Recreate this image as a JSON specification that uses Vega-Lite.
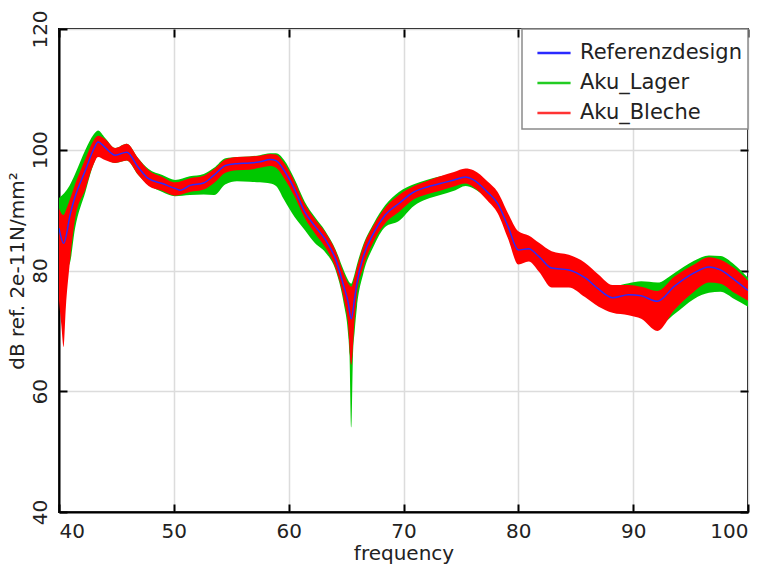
{
  "$schema": "https://vega.github.io/schema/vega-lite/v6.json",
  "autosize": {"type": "none"},
  "width": 689,
  "height": 483,
  "padding": {"left": 59, "top": 29, "right": 21, "bottom": 52},
  "background": "white",
  "config": {
    "font": "DejaVu Sans",
    "view": {"stroke": "#000000", "strokeWidth": 2},
    "axis": {
      "labelFont": "DejaVu Sans", "labelFontSize": 20, "labelColor": "#222222",
      "titleFont": "DejaVu Sans", "titleFontSize": 20, "titleFontWeight": "normal", "titleColor": "#222222",
      "domainColor": "#000000", "domainWidth": 2,
      "tickColor": "#000000", "tickWidth": 2, "tickSize": -8,
      "gridColor": "#dcdcdc", "gridWidth": 1.5,
      "labelPadding": 17
    },
    "legend": {
      "orient": "top-right", "offset": 0,
      "fillColor": "white", "strokeColor": "#8a8a8a", "strokeWidth": 1.5,
      "padding": 6, "labelFont": "DejaVu Sans", "labelFontSize": 21, "labelColor": "#222222", "labelLimit": 300,
      "symbolType": "stroke", "symbolSize": 1100, "symbolStrokeWidth": 2.5, "symbolOffset": 8,
      "rowPadding": 2, "labelOffset": 8, "cornerRadius": 0
    }
  },
  "datasets": {
    "ref": [
      {"f": 40.0, "v": 87.0}, {"f": 40.4, "v": 84.5}, {"f": 41.0, "v": 89.5}, {"f": 41.4, "v": 92.2},
      {"f": 42.3, "v": 96.6}, {"f": 43.0, "v": 100.0}, {"f": 43.4, "v": 101.3}, {"f": 44.0, "v": 100.4},
      {"f": 44.9, "v": 99.1}, {"f": 45.9, "v": 99.6}, {"f": 46.9, "v": 97.1}, {"f": 47.8, "v": 95.2},
      {"f": 49.0, "v": 94.4}, {"f": 50.1, "v": 93.6}, {"f": 50.6, "v": 93.3}, {"f": 51.4, "v": 94.1},
      {"f": 52.6, "v": 94.5}, {"f": 53.5, "v": 95.8}, {"f": 54.5, "v": 97.4}, {"f": 55.5, "v": 97.7},
      {"f": 56.6, "v": 97.8}, {"f": 57.5, "v": 98.0}, {"f": 58.4, "v": 98.4}, {"f": 58.9, "v": 98.2},
      {"f": 59.6, "v": 96.6}, {"f": 60.5, "v": 93.5}, {"f": 61.4, "v": 89.7}, {"f": 62.3, "v": 87.3},
      {"f": 63.2, "v": 85.1}, {"f": 64.1, "v": 81.8}, {"f": 64.8, "v": 77.4}, {"f": 65.15, "v": 75.0},
      {"f": 65.45, "v": 72.0}, {"f": 65.75, "v": 75.5}, {"f": 65.95, "v": 78.0}, {"f": 66.5, "v": 82.3},
      {"f": 67.4, "v": 86.2}, {"f": 68.4, "v": 89.2}, {"f": 69.6, "v": 91.1}, {"f": 70.9, "v": 93.0},
      {"f": 72.0, "v": 93.8}, {"f": 73.2, "v": 94.4}, {"f": 74.4, "v": 95.0}, {"f": 75.4, "v": 95.5},
      {"f": 76.1, "v": 95.0}, {"f": 77.3, "v": 93.0}, {"f": 78.2, "v": 91.1}, {"f": 79.1, "v": 87.3},
      {"f": 80.0, "v": 83.4}, {"f": 80.9, "v": 83.6}, {"f": 81.8, "v": 82.3}, {"f": 82.9, "v": 80.4},
      {"f": 84.4, "v": 80.1}, {"f": 85.8, "v": 78.8}, {"f": 87.0, "v": 76.9}, {"f": 88.2, "v": 75.5},
      {"f": 89.6, "v": 76.0}, {"f": 90.7, "v": 75.8}, {"f": 92.1, "v": 74.9}, {"f": 93.6, "v": 77.4},
      {"f": 95.3, "v": 79.6}, {"f": 96.6, "v": 80.6}, {"f": 97.6, "v": 80.1}, {"f": 98.8, "v": 78.5},
      {"f": 100.0, "v": 76.7}
    ],
    "bleche": [
      {"f": 40.0, "lo": 75, "hi": 90.3}, {"f": 40.2, "lo": 71, "hi": 89.5}, {"f": 40.4, "lo": 67.3, "hi": 89.2},
      {"f": 40.6, "lo": 74, "hi": 90}, {"f": 40.9, "lo": 80.5, "hi": 91.5}, {"f": 41.4, "lo": 88.5, "hi": 94.3},
      {"f": 42.3, "lo": 93.5, "hi": 98.5}, {"f": 43.0, "lo": 97.5, "hi": 101.5}, {"f": 43.4, "lo": 98.8, "hi": 102.3},
      {"f": 44.0, "lo": 98.3, "hi": 101.8}, {"f": 44.9, "lo": 97.8, "hi": 100.3}, {"f": 45.9, "lo": 98.2, "hi": 101},
      {"f": 46.9, "lo": 95.8, "hi": 98.6}, {"f": 47.8, "lo": 94.0, "hi": 96.6}, {"f": 49.0, "lo": 93.2, "hi": 95.5},
      {"f": 50.1, "lo": 92.4, "hi": 94.6}, {"f": 51.4, "lo": 93.0, "hi": 95.3}, {"f": 52.6, "lo": 93.4, "hi": 95.7},
      {"f": 53.5, "lo": 94.5, "hi": 96.8}, {"f": 54.5, "lo": 96.2, "hi": 98.4}, {"f": 55.5, "lo": 96.6, "hi": 98.8},
      {"f": 56.6, "lo": 96.7, "hi": 98.9}, {"f": 57.5, "lo": 97, "hi": 99}, {"f": 58.4, "lo": 97.3, "hi": 99.3},
      {"f": 58.9, "lo": 97, "hi": 99.2}, {"f": 59.6, "lo": 95.3, "hi": 97.8}, {"f": 60.5, "lo": 92.3, "hi": 94.8},
      {"f": 61.4, "lo": 88.7, "hi": 91}, {"f": 62.3, "lo": 86.1, "hi": 88.5}, {"f": 63.2, "lo": 83.8, "hi": 86.3},
      {"f": 64.1, "lo": 80.3, "hi": 83.2}, {"f": 64.8, "lo": 75.3, "hi": 79.5}, {"f": 65.15, "lo": 71.5, "hi": 78},
      {"f": 65.45, "lo": 64.4, "hi": 77.3}, {"f": 65.75, "lo": 72, "hi": 79}, {"f": 65.95, "lo": 76, "hi": 80.5},
      {"f": 66.5, "lo": 80.5, "hi": 84}, {"f": 67.4, "lo": 84.8, "hi": 87.5}, {"f": 68.4, "lo": 87.8, "hi": 90.4},
      {"f": 69.6, "lo": 89.7, "hi": 92.5}, {"f": 70.9, "lo": 91.8, "hi": 94}, {"f": 72.0, "lo": 92.6, "hi": 94.8},
      {"f": 73.2, "lo": 93.2, "hi": 95.6}, {"f": 74.4, "lo": 93.9, "hi": 96.3}, {"f": 75.4, "lo": 94.4, "hi": 96.9},
      {"f": 76.1, "lo": 93.8, "hi": 96.6}, {"f": 77.3, "lo": 91.6, "hi": 94.8}, {"f": 78.2, "lo": 89.5, "hi": 93},
      {"f": 79.1, "lo": 85.3, "hi": 89.5}, {"f": 80.0, "lo": 81.0, "hi": 86.5}, {"f": 80.9, "lo": 81.5, "hi": 85.8},
      {"f": 81.8, "lo": 79.8, "hi": 84.6}, {"f": 82.9, "lo": 77.2, "hi": 83.2}, {"f": 84.4, "lo": 77.2, "hi": 82.6},
      {"f": 85.8, "lo": 75.6, "hi": 81.3}, {"f": 87.0, "lo": 74.0, "hi": 79.3}, {"f": 88.2, "lo": 73.0, "hi": 77.6},
      {"f": 89.6, "lo": 72.6, "hi": 77.6}, {"f": 90.7, "lo": 72, "hi": 77.3}, {"f": 92.1, "lo": 70.0, "hi": 76.6},
      {"f": 93.6, "lo": 73.5, "hi": 79.0}, {"f": 95.3, "lo": 76.5, "hi": 81.0}, {"f": 96.6, "lo": 78.0, "hi": 82.2},
      {"f": 97.6, "lo": 77.8, "hi": 81.8}, {"f": 98.8, "lo": 76.3, "hi": 80.4}, {"f": 100.0, "lo": 75.0, "hi": 78.3}
    ],
    "lager": [
      {"f": 40.0, "lo": 80, "hi": 92}, {"f": 40.9, "lo": 81, "hi": 94}, {"f": 41.4, "lo": 87, "hi": 96},
      {"f": 42.3, "lo": 93, "hi": 100}, {"f": 43.0, "lo": 97.5, "hi": 102.5}, {"f": 43.4, "lo": 99, "hi": 103.2},
      {"f": 44.0, "lo": 98.5, "hi": 102}, {"f": 44.9, "lo": 97.8, "hi": 100.3}, {"f": 45.9, "lo": 98.2, "hi": 101},
      {"f": 46.9, "lo": 95.8, "hi": 98.6}, {"f": 47.8, "lo": 94.2, "hi": 96.8}, {"f": 49.0, "lo": 93, "hi": 95.8},
      {"f": 50.1, "lo": 92.3, "hi": 95}, {"f": 51.4, "lo": 92.5, "hi": 95.6}, {"f": 52.6, "lo": 92.6, "hi": 96},
      {"f": 53.5, "lo": 92.5, "hi": 97}, {"f": 54.5, "lo": 94.3, "hi": 98.6}, {"f": 55.5, "lo": 94.8, "hi": 98.8},
      {"f": 56.6, "lo": 94.7, "hi": 98.9}, {"f": 57.5, "lo": 94.6, "hi": 99.1}, {"f": 58.4, "lo": 94.4, "hi": 99.4},
      {"f": 58.9, "lo": 94, "hi": 99.4}, {"f": 59.6, "lo": 91.7, "hi": 98.3}, {"f": 60.5, "lo": 88.9, "hi": 95.2},
      {"f": 61.4, "lo": 86.7, "hi": 91.4}, {"f": 62.3, "lo": 84.5, "hi": 88.8}, {"f": 63.2, "lo": 83, "hi": 86.5},
      {"f": 64.1, "lo": 80, "hi": 83.4}, {"f": 64.8, "lo": 74.5, "hi": 80}, {"f": 65.15, "lo": 70, "hi": 78.5},
      {"f": 65.3, "lo": 66, "hi": 78}, {"f": 65.45, "lo": 54, "hi": 77.8}, {"f": 65.6, "lo": 66, "hi": 78.5},
      {"f": 65.75, "lo": 70, "hi": 79.5}, {"f": 65.95, "lo": 74, "hi": 81}, {"f": 66.5, "lo": 79.5, "hi": 84.3},
      {"f": 67.4, "lo": 84, "hi": 87.8}, {"f": 68.4, "lo": 87.2, "hi": 90.8}, {"f": 69.6, "lo": 88.2, "hi": 93},
      {"f": 70.9, "lo": 90.7, "hi": 94.3}, {"f": 72.0, "lo": 91.8, "hi": 95}, {"f": 73.2, "lo": 92.5, "hi": 95.6},
      {"f": 74.4, "lo": 93.2, "hi": 96}, {"f": 75.4, "lo": 94, "hi": 96.3}, {"f": 76.1, "lo": 93.6, "hi": 95.8},
      {"f": 77.3, "lo": 91.8, "hi": 94}, {"f": 78.2, "lo": 89.8, "hi": 92.2}, {"f": 79.1, "lo": 86, "hi": 88.7},
      {"f": 80.0, "lo": 82, "hi": 85}, {"f": 80.9, "lo": 82.5, "hi": 85}, {"f": 81.8, "lo": 81, "hi": 83.8},
      {"f": 82.9, "lo": 79, "hi": 82}, {"f": 84.4, "lo": 78.5, "hi": 81.5}, {"f": 85.8, "lo": 77, "hi": 80.3},
      {"f": 87.0, "lo": 75, "hi": 78.5}, {"f": 88.2, "lo": 73.5, "hi": 77.4}, {"f": 89.6, "lo": 73, "hi": 77.9},
      {"f": 90.7, "lo": 72.5, "hi": 78.2}, {"f": 92.1, "lo": 70.8, "hi": 78.0}, {"f": 93.6, "lo": 72.8, "hi": 79.6},
      {"f": 95.3, "lo": 75.3, "hi": 81.6}, {"f": 96.6, "lo": 76.3, "hi": 82.5}, {"f": 97.6, "lo": 76.5, "hi": 82.4},
      {"f": 98.8, "lo": 75.3, "hi": 81}, {"f": 100.0, "lo": 74.0, "hi": 78.8}
    ]
  },
  "layer": [
    {
      "layer": [
        {
          "data": {"name": "lager"},
          "mark": {"type": "area", "interpolate": "monotone", "color": "#00c800", "clip": true},
          "encoding": {
            "x": {"field": "f", "type": "quantitative", "scale": {"domain": [40, 100], "nice": false, "zero": false},
                  "axis": {"title": "frequency", "values": [40, 50, 60, 70, 80, 90, 100], "titlePadding": 2}},
            "y": {"field": "lo", "type": "quantitative", "scale": {"domain": [40, 120], "nice": false, "zero": false},
                  "axis": {"title": "dB ref. 2e-11N/mm²", "values": [40, 60, 80, 100, 120], "labelAngle": -90, "labelAlign": "center", "labelBaseline": "bottom", "titlePadding": 3}},
            "y2": {"field": "hi"}
          }
        },
        {
          "data": {"name": "bleche"},
          "mark": {"type": "area", "interpolate": "monotone", "color": "#ff0000", "clip": true},
          "encoding": {
            "x": {"field": "f", "type": "quantitative"},
            "y": {"field": "lo", "type": "quantitative"},
            "y2": {"field": "hi"}
          }
        },
        {
          "data": {"name": "ref"},
          "transform": [{"calculate": "'Referenzdesign'", "as": "series"}],
          "mark": {"type": "line", "interpolate": "monotone", "strokeWidth": 1.5, "clip": true},
          "encoding": {
            "x": {"field": "f", "type": "quantitative"},
            "y": {"field": "v", "type": "quantitative"},
            "color": {"field": "series", "type": "nominal",
                      "scale": {"domain": ["Referenzdesign", "Aku_Lager", "Aku_Bleche"], "range": ["#2a2aff", "#22cc22", "#ff3333"]},
                      "legend": {"title": null}}
          }
        }
      ]
    },
    {
      "data": {"name": "ref"},
      "mark": {"type": "point", "opacity": 0},
      "encoding": {
        "x": {"field": "f", "type": "quantitative",
              "axis": {"orient": "top", "title": null, "labels": false, "grid": false, "domain": false, "values": [40, 50, 60, 70, 80, 90, 100]}},
        "y": {"field": "v", "type": "quantitative",
              "axis": {"orient": "right", "title": null, "labels": false, "grid": false, "domain": false, "values": [40, 60, 80, 100, 120]}}
      }
    }
  ],
  "resolve": {"axis": {"x": "independent", "y": "independent"}}
}
